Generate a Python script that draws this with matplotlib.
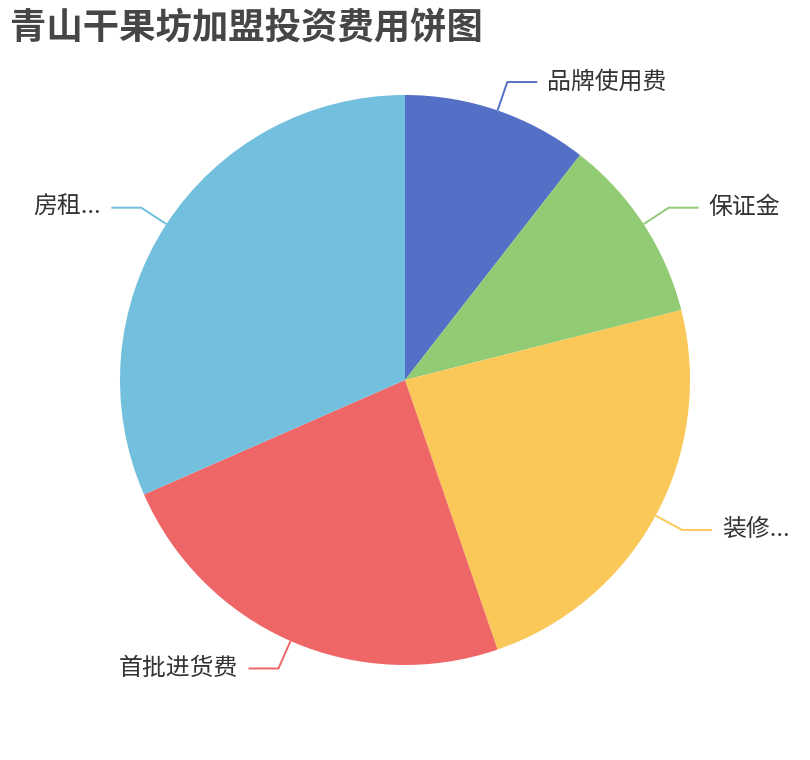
import numpy as np
import matplotlib
matplotlib.use('Agg')
import matplotlib.pyplot as plt

plt.rcParams['font.family'] = ['Noto Sans CJK SC', 'DejaVu Sans']

# chart data
title = '青山干果坊加盟投资费用饼图'
names = ['品牌使用费', '保证金', '装修...', '首批进货费', '房租...']
values = [2, 2, 4.5, 4.5, 6]
colors = ['#5470c6', '#91cc75', '#fac858', '#ee6666', '#73c0de']

W, H = 810, 760
cx, cy, rad = 405, 380, 285

fig = plt.figure(figsize=(W / 100, H / 100), dpi=100)
ax = fig.add_axes([0, 0, 1, 1])

wedges, _ = ax.pie(values, colors=colors, startangle=90, counterclock=False,
                   center=(cx, cy), radius=rad,
                   wedgeprops=dict(linewidth=0))

# label lines like echarts: 30px out, then 30px sideways
for w, name, col in zip(wedges, names, colors):
    mid = np.deg2rad((w.theta1 + w.theta2) / 2)
    x0, y0 = cx + rad * np.cos(mid), cy + rad * np.sin(mid)
    x1, y1 = cx + (rad + 30) * np.cos(mid), cy + (rad + 30) * np.sin(mid)
    side = 1 if np.cos(mid) >= 0 else -1
    x2 = x1 + 30 * side
    ax.plot([x0, x1, x2], [y0, y1, y1], color=col, lw=1.4, solid_capstyle='butt')
    ax.text(x2 + 10 * side, y1, name, fontsize=17.2, color='#333333',
            ha='left' if side > 0 else 'right', va='center')

ax.text(10, H - 28, title, fontsize=26.2, fontweight='bold', color='#464646',
        ha='left', va='center')

ax.set_xlim(0, W)
ax.set_ylim(0, H)
ax.axis('off')

fig.savefig('out.png', dpi=100, facecolor='white')
